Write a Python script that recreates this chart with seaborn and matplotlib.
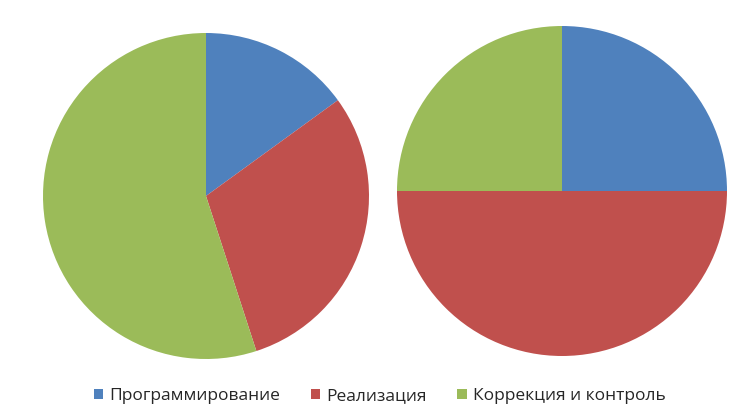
import matplotlib
matplotlib.use("Agg")
import matplotlib.pyplot as plt
import seaborn as sns
from matplotlib.patches import Patch

# данные
categories = ["Программирование", "Реализация", "Коррекция и контроль"]
left_values = [15, 30, 55]
right_values = [25, 50, 25]
colors = ["#4F81BD", "#C0504D", "#9BBB59"]

sns.set_theme(style="white")
plt.rcParams['font.family'] = ['Open Sans', 'DejaVu Sans']

fig = plt.figure(figsize=(7.55, 4.2), dpi=100)

# левая диаграмма
ax1 = fig.add_axes([(206 - 163) / 755, 1 - (196 + 163) / 420, 326 / 755, 326 / 420])
ax1.pie(left_values, colors=colors, startangle=90, counterclock=False,
        wedgeprops=dict(linewidth=0))
ax1.set_xlim(-1, 1)
ax1.set_ylim(-1, 1)
ax1.set_aspect("equal")

# правая диаграмма
ax2 = fig.add_axes([(562 - 165) / 755, 1 - (191 + 165) / 420, 330 / 755, 330 / 420])
ax2.pie(right_values, colors=colors, startangle=90, counterclock=False,
        wedgeprops=dict(linewidth=0))
ax2.set_xlim(-1, 1)
ax2.set_ylim(-1, 1)
ax2.set_aspect("equal")

handles = [Patch(facecolor=c, edgecolor="none", label=l) for c, l in zip(colors, categories)]
fig.legend(handles=handles, loc="center", bbox_to_anchor=(0.503, 1 - 396 / 420),
           ncol=3, frameon=False, fontsize=12.5, handlelength=0.55, handleheight=0.55,
           handletextpad=0.35, columnspacing=1.75)

fig.savefig("out.png", dpi=100)
plt.close(fig)
